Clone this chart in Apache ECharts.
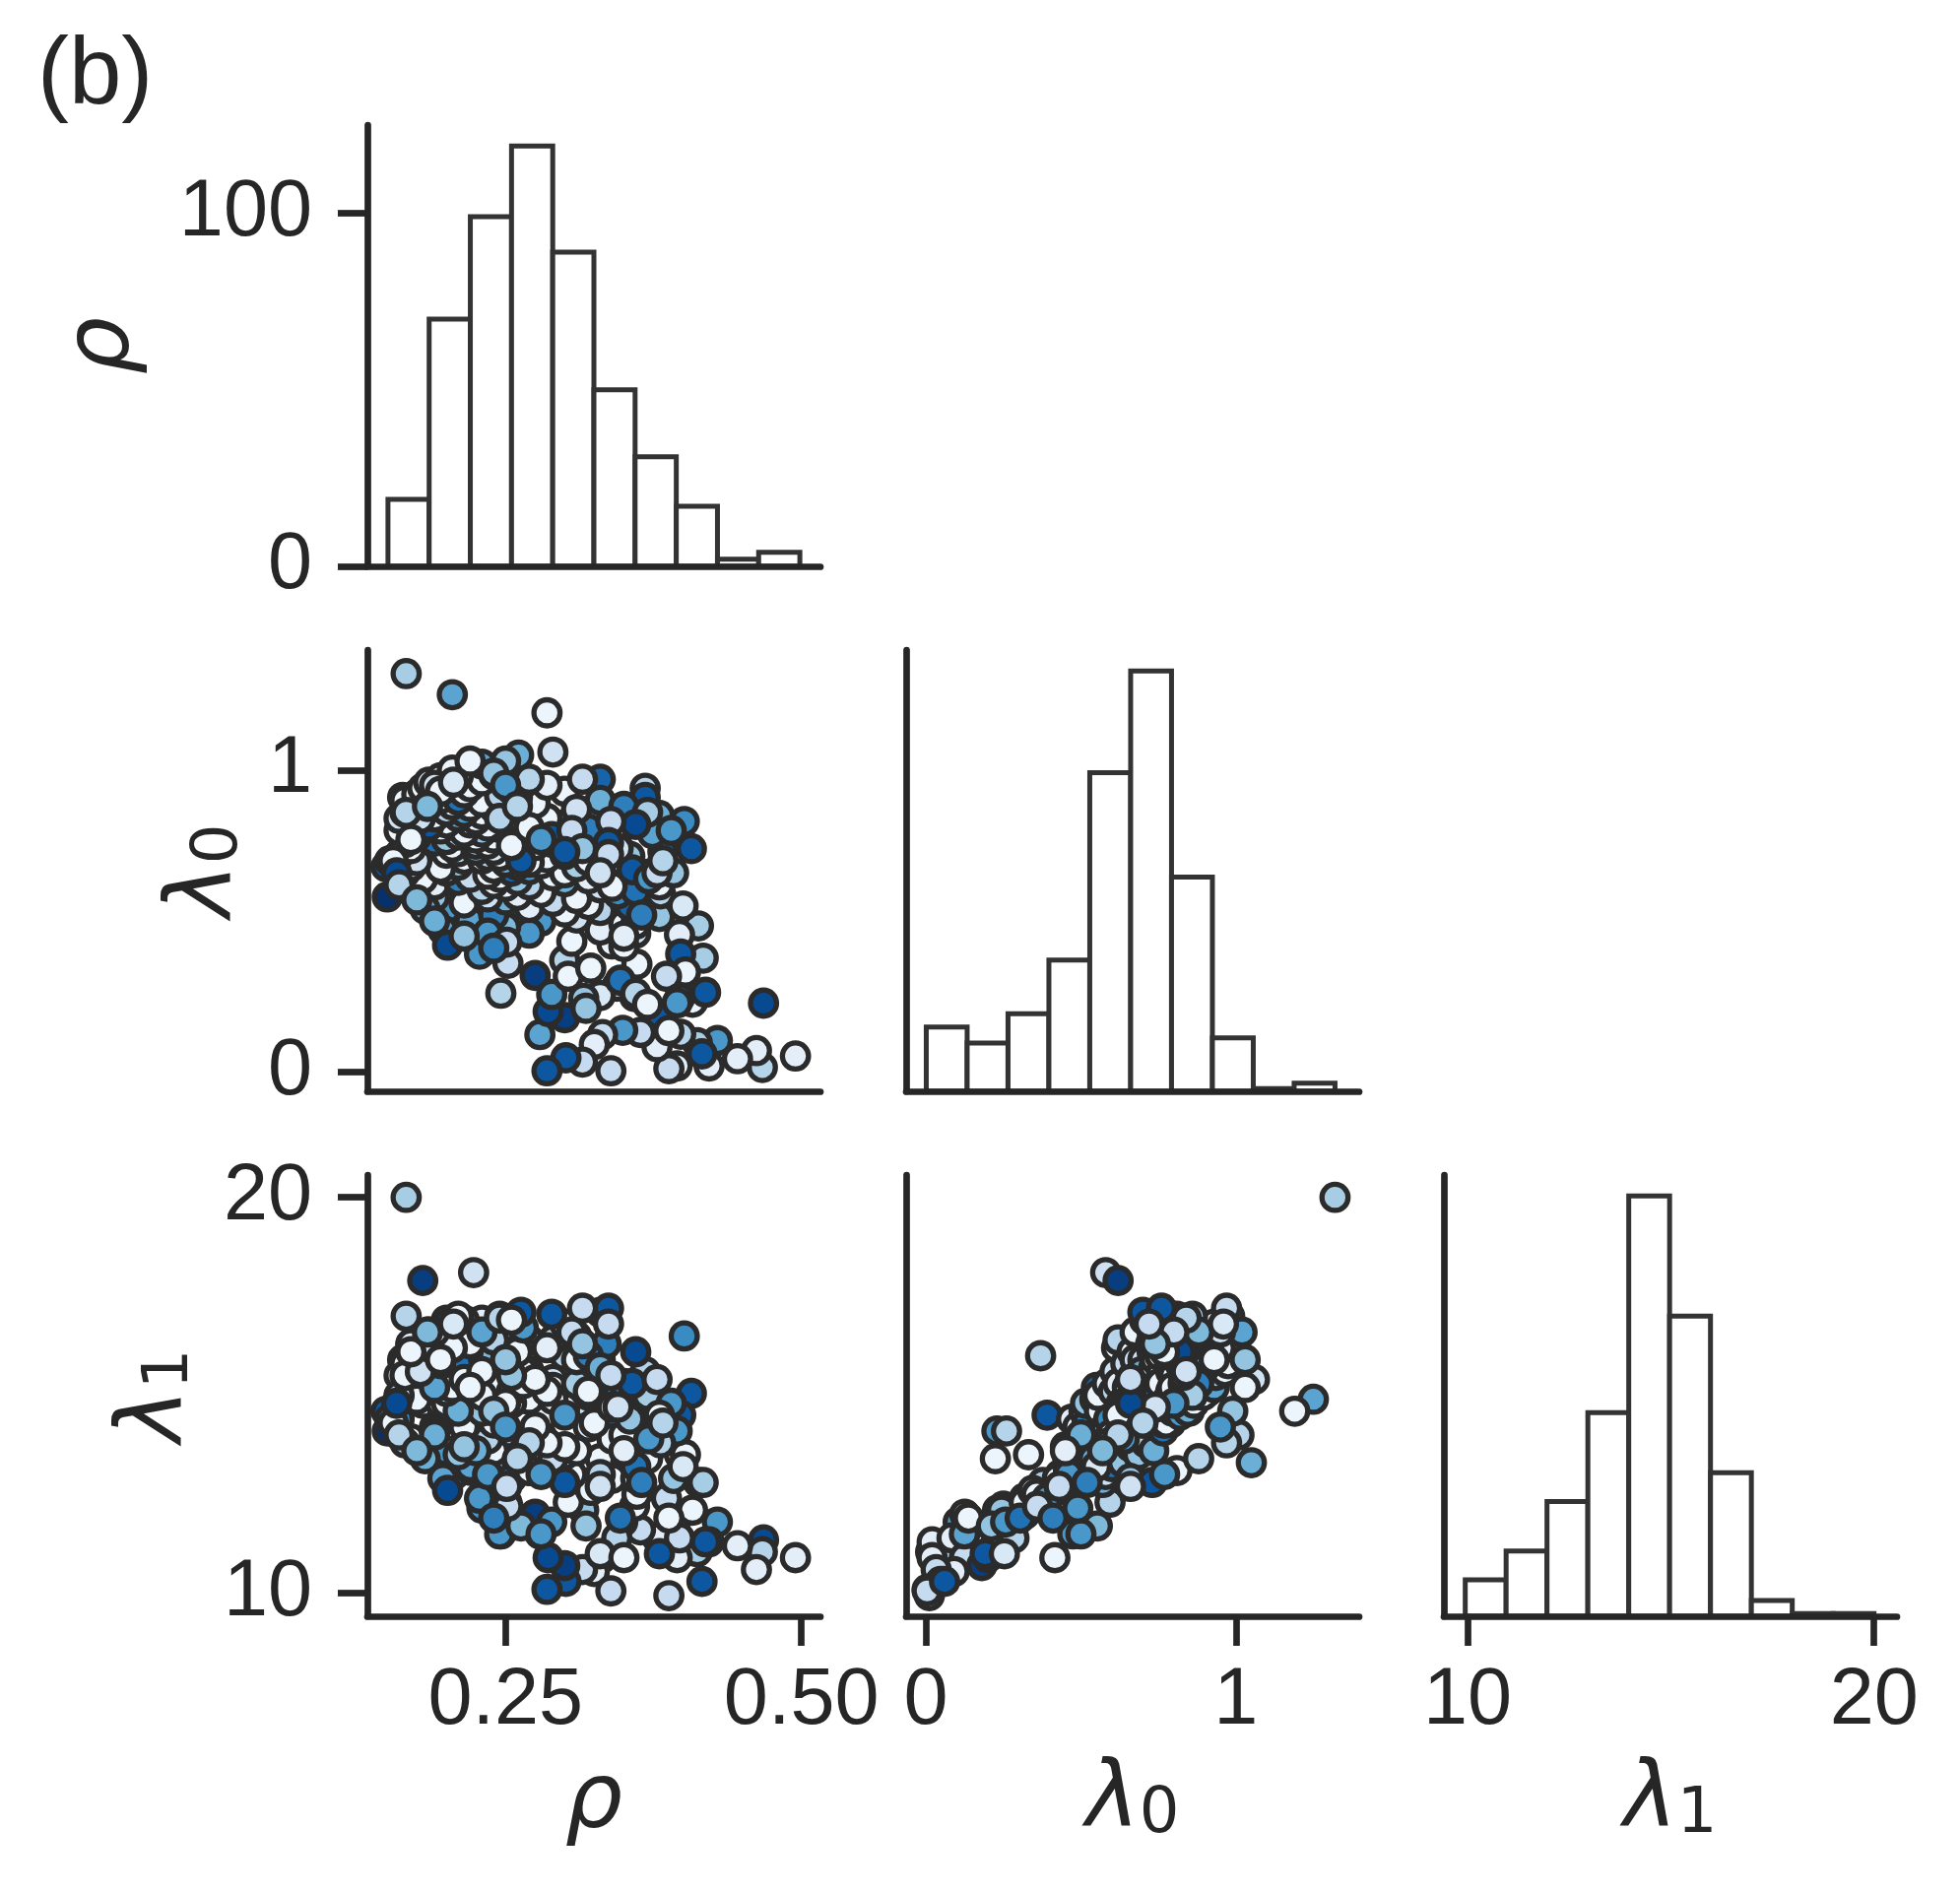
<!DOCTYPE html>
<html>
<head>
<meta charset="utf-8">
<script src="https://cdn.jsdelivr.net/npm/echarts@6/dist/echarts.min.js"></script>
<style>
  html, body { margin: 0; padding: 0; background: #fff; }
  #chart { width: 1990px; height: 1924px; }
</style>
</head>
<body>
<div id="chart"></div>
<script>
// samples (rho, lambda0, lambda1, colour value)
var rho = [
  // outliers and picked points
  .166,.205,.285,.290,.223,.180,.330,.300,.261,.248, .225,.163,.150,.149,.152,.368,.368,.380,.401,.407, .383,.374,
  // low lambda0 tail
  .468,.495,.467,.462,.446,.429,.412,.422,.395,.388, .378,.364,.349,.332,.325,.315,.301,.285,.339,.279, .416,.398,.300,.286,
  // lower cloud
  .246,.275,.413,.397,.417,.398,.402,.386,.408,.419, .397,.380,.388,.359,.344,.330,.316,.318,.289,.303,
  .322,.306,.330,.340,.360,.361,.347,.395,.360,.370, .350,.245,.263,.251,.280,.230,.207,.221,
  // main cloud
  .27,.33,.25,.35,.22,.31,.36,.24,.30,.38, .20,.27,.33,.355,.215,.29,.32,.25,.19,.26,
  .31,.345,.235,.17,.23,.28,.33,.36,.25,.19, .24,.30,.34,.27,.21,.18,.22,.26,.29,.32,
  .37,.245,.165,.20,.235,.27,.30,.33,.255,.17, .21,.24,.28,.31,.35,.26,.195,.175,.215,.25,
  .285,.32,.355,.23,.27,.16,.20,.235,.265,.30, .335,.245,.21,.17,.205,.24,.275,.31,.345,.225,
  .26,.165,.19,.225,.255,.29,.325,.235,.20,.175, .21,.24,.27,.305,.34,.225,.255,.16,.195,.23,
  .26,.29,.32,.215,.245,.17,.20,.235,.265,.30, .22,.185,.16,.19,.225,.255,.285,.21,.165,.20,
  .23,.265,.215,.25,.17,.205,.24,.275,.22,.165, .195,.23,.26,.21,.175,.215,.245,.19,.18,.22,
  .255,.20,.185,.23,.265,.195,.24,.21,.205,.23, .25,.30,.33,.31,.35,.37,.39,.36,.285,.315,
  .182,.197,.201,.228,.235,.252,.251,.215,.19,.24, .381,.38,.357,.371,.339,.345,.392,.40,.365,.35,
  .155,.158,.178,.19,.195,.17,.16,.175,.166,.184, .206,.263,.289,.245,.255,.306,.315,.337,.337,.378,
  .383,.24,.22,.27,.25,.30,.27,.33,.26,.28
];
var lam0 = [
  1.32,1.25,1.19,1.06,.58,.62,.97,.37,1.05,1.01, 1.00,.91,.58,.68,.70,.94,.91,.85,.83,.74, .73,.79,
  .228,.053,.015,.071,.044,.104,.097,.020,.020,.011, .084,.131,.138,.124,.091,.033,.047,.004,.004,.124, .060,.125,.180,.200,
  .261,.320,.484,.455,.377,.391,.331,.317,.231,.264, .244,.191,.137,.250,.284,.253,.244,.211,.257,.317,
  .344,.433,.511,.424,.460,.357,.304,.229,.260,.224, .416,.474,.553,.594,.500,.490,.550,.600,
  .46,.47,.48,.49,.50,.51,.49,.52,.53,.515, .54,.545,.535,.55,.56,.565,.555,.57,.58,.585,
  .575,.59,.58,.60,.605,.595,.61,.60,.615,.62, .625,.63,.615,.62,.635,.64,.645,.635,.65,.64,
  .655,.645,.66,.665,.655,.67,.66,.675,.665,.68, .685,.675,.69,.68,.695,.685,.675,.70,.705,.695,
  .71,.70,.715,.705,.695,.72,.725,.715,.73,.72, .725,.715,.73,.74,.745,.735,.75,.74,.745,.735,
  .75,.76,.765,.755,.77,.76,.765,.755,.77,.78, .785,.775,.79,.78,.785,.775,.79,.80,.805,.795,
  .81,.80,.805,.795,.81,.82,.825,.815,.83,.82, .825,.815,.84,.845,.835,.85,.84,.845,.86,.865,
  .855,.87,.86,.865,.88,.885,.875,.89,.88,.90, .905,.895,.91,.90,.92,.925,.915,.93,.94,.945,
  .935,.95,.96,.965,.955,.975,.985,.98,1.00,1.02, 1.03,.93,.90,.87,.88,.86,.80,.82,.95,.97,
  .54,.47,.42,.39,.46,.36,.43,.45,.50,.41, .59,.62,.67,.64,.83,.74,.66,.55,.52,.45,
  .70,.66,.84,.95,.93,.77,.62,.57,.86,.88, .96,.70,.78,.84,.75,.80,.74,.76,.72,.66,
  .70,.99,1.03,.97,.95,.73,.81,.66,.88,.77
];
var lam1 = [
  20.0,14.9,14.6,15.4,18.1,17.9,17.1,16.0,13.3,14.0, 15.9,15.9,14.1,14.6,14.4,15.6,15.1,14.6,16.5,15.05, 14.5,14.3,
  11.35,10.9,11.05,10.6,11.2,11.8,11.05,11.3,10.9,9.94, 11.4,11.6,11.8,10.9,10.55,10.6,10.3,10.1,10.06,11.5, 10.3,12.0,10.7,10.9,
  11.5,12.0,12.8,13.5,12.8,14.5,13.5,12.4,12.1,11.3, 11.4,11.0,11.9,12.2,11.4,11.0,12.1,11.7,11.8,12.3,
  12.6,13.0,13.4,12.9,13.2,12.5,11.9,14.1,14.1,13.4, 10.9,11.5,11.7,12.3,11.5,12.15,13.0,13.1,
  13.1,14.4,13.4,14.2,13.2,14.6,12.9,14.3,13.5,14.8, 13.6,14.9,13.0,15.2,14.6,13.4,15.0,12.8,14.2,15.3,
  13.6,14.4,13.0,13.9,15.1,14.0,15.6,13.2,16.2,15.3, 13.6,14.8,13.9,16.4,14.5,14.8,15.8,13.3,15.2,14.2,
  14.9,14.6,13.8,16.1,14.2,15.5,13.7,15.9,12.9,15.2, 13.5,16.6,14.4,15.3,14.0,15.0,14.8,15.9,14.2,15.6,
  13.8,15.1,14.4,16.9,14.9,14.4,15.4,13.9,16.1,14.7, 16.3,15.0,16.6,16.3,14.6,15.7,14.2,15.9,15.0,13.6,
  16.8,15.6,14.1,16.0,14.8,16.4,14.3,15.3,16.9,14.9, 15.9,14.3,15.6,16.7,14.7,16.5,15.1,15.5,16.2,14.6,
  15.9,14.9,16.0,15.2,17.0,16.0,14.8,16.4,15.3,14.5, 15.7,16.6,15.0,16.3,15.5,16.7,15.1,14.6,15.8,15.1,
  16.2,15.6,16.9,14.8,16.3,15.2,16.0,15.4,15.7,15.5, 16.5,15.0,16.1,15.8,16.0,15.4,16.6,15.2,15.7,16.3,
  15.5,16.8,16.1,15.6,16.7,15.8,16.4,17.0,16.2,16.6, 15.9,16.8,15.7,16.5,15.3,15.0,14.8,16.1,16.2,17.2,
  13.4,12.9,12.6,12.4,13.0,12.2,12.7,13.7,14.0,11.9, 13.8,14.5,15.3,13.9,15.5,14.7,12.9,13.2,12.8,13.6,
  14.3,14.8,15.6,16.6,15.9,16.1,14.0,13.6,17.0,16.6, 16.8,17.1,17.05,16.95,16.9,16.6,16.3,17.2,16.8,15.4,
  14.3,14.6,15.2,13.8,14.2,12.8,13.1,12.7,13.4,13.0
];
var hue = [
  .35,.55,.05,.2,.2,.95,.8,.3,.5,.3, .9,1,1,.85,.05,.3,.85,.5,.65,.85, .8,.55,
  .9,.1,.3,.1,.1,.6,.35,.1,.1,.25, .1,.25,.6,.25,.1,.25,.85,.85,.25,.55, .85,.3,.95,.9,
  .3,.95,.35,.1,.35,.85,.05,.25,.05,.85, .25,.85,.05,.05,.3,.15,.4,.4,.6,.05,
  .05,.05,.05,.05,.2,.05,.75,.6,.3,.05, .05,.6,.45,.3,.6,.6,.3,.3,
  .6,.1,.45,.05,.55,.2,.05,.7,.05,.4, .6,.1,.3,.8,.05,.25,.05,.5,.4,.1,
  .05,.65,.2,.05,.3,.05,.2,.75,.05,.1, .05,.5,.05,.3,.7,.05,.25,.4,.05,.1,
  .55,.05,.3,.05,.05,.6,.05,.2,.8,.05, .4,.05,.05,.35,.05,.1,.05,.2,.05,.5,
  .05,.05,.4,.1,.05,.65,.05,.3,.05,.05, .7,.05,.3,.05,.05,.15,.05,.05,.6,.5,
  .2,.1,.75,.05,.05,.25,.05,.05,.4,.05, .2,.05,.05,.55,.1,.05,.3,.05,.05,.4,
  .05,.05,.7,.05,.15,.3,.05,.05,.05,.6, .05,.85,.2,.05,.05,.25,.05,.5,.05,.3,
  .05,.05,.6,.05,.1,.05,.45,.05,.05,.05, .2,.05,.05,.75,.05,.05,.3,.55,.05,.05,
  .4,.85,.2,.05,.6,.05,.3,.05,.05,.55, .4,.05,.5,.2,.7,.35,.6,.9,.1,.25,
  .5,.55,.9,.6,.6,.25,.25,.4,.5,.7, .3,.05,.85,.6,.25,.2,.4,.15,.7,.1,
  .05,.9,.2,.2,.05,.05,.3,.45,.3,.45, .15,.85,.85,.3,.05,.25,.4,.85,.25,.25,
  .3,.4,.05,.3,.6,.85,.05,.2,.3,.6
];

// histogram counts (10 bins each) and bin ranges
var rhoCounts  = [19, 70, 99, 119, 89, 50, 31, 17, 2, 4];
var lam0Counts = [24, 18, 29, 49, 119, 157, 80, 20, 1, 3];
var lam1Counts = [14, 25, 44, 78, 161, 115, 55, 6, 1, 1];
var rhoBins  = [0.1506, 0.4987];
var lam0Bins = [0.001, 1.320];
var lam1Bins = [9.945, 20.0];

// tick labels
var rhoTicks   = [0.25, 0.5];
var lam0Ticks  = [0, 1];
var lam1Ticks  = [10, 20];
var countTicks = [0, 100];

var blues = ['#f7fbff','#deebf7','#c6dbef','#9ecae1','#6baed6','#4292c6','#2171b5','#08519c','#08306b'];

var chart = echarts.init(document.getElementById('chart'));

var ink = '#262626';
var tickFont = "'Liberation Sans', Arial, sans-serif";
var mathFont = "'DejaVu Sans', sans-serif";

var rhoLim  = [0.1332, 0.5161];
var lam0Lim = [-0.064, 1.398];
var lam1Lim = [9.42, 20.565];

var colLeft = [373, 920, 1466];
var rowTop  = [127, 660, 1193];

var mathRich = {
  i: { fontFamily: mathFont, fontStyle: 'italic', fontSize: 92, lineHeight: 92, color: ink },
  s: { fontFamily: mathFont, fontSize: 64, lineHeight: 46, verticalAlign: 'bottom', color: ink }
};
var names = { rho: '{i|ρ}', lam0: '{i|λ}{s|0}', lam1: '{i|λ}{s|1}' };

function fmtRho(v) { return v.toFixed(2); }
function fmtInt(v) { return String(Math.round(v)); }

function makeAxis(grid, lim, ticks, fmt, isY, name, gap) {
  var on = !!ticks;
  return {
    type: 'value', gridIndex: grid, min: lim[0], max: lim[1], z: 5,
    axisLine: { show: true, onZero: false, lineStyle: { color: ink, width: 6.7 } },
    axisTick: { show: on, inside: false, length: 30, customValues: on ? ticks : undefined,
                lineStyle: { color: ink, width: 6.7 } },
    axisLabel: { show: on, customValues: on ? ticks : undefined, formatter: fmt,
                 margin: isY ? 56 : 46, fontSize: 81, color: ink, fontFamily: tickFont,
                 showMinLabel: true, showMaxLabel: true },
    splitLine: { show: false },
    name: name || '', nameLocation: 'middle', nameGap: gap || 0,
    nameTextStyle: { rich: mathRich }
  };
}

function histData(bins, counts) {
  var w = (bins[1] - bins[0]) / counts.length;
  return counts.map(function (c, i) { return [bins[0] + i * w, bins[0] + (i + 1) * w, c]; });
}

function renderBin(params, api) {
  var a = api.coord([api.value(0), 0]);
  var b = api.coord([api.value(1), api.value(2)]);
  return {
    type: 'rect',
    shape: { x: a[0], y: b[1], width: b[0] - a[0], height: a[1] - b[1] },
    style: { fill: '#ffffff', stroke: '#333333', lineWidth: 5 }
  };
}

function histSeries(idx, bins, counts) {
  return {
    type: 'custom', xAxisIndex: idx, yAxisIndex: idx, renderItem: renderBin,
    encode: { x: [0, 1], y: 2 }, data: histData(bins, counts), silent: true
  };
}

function scatterSeries(idx, xs, ys) {
  return {
    type: 'scatter', xAxisIndex: idx, yAxisIndex: idx, symbolSize: 26.5,
    itemStyle: { borderColor: '#2b2b2b', borderWidth: 5.3, opacity: 1 },
    data: xs.map(function (x, i) { return [x, ys[i], hue[i]]; }), silent: true
  };
}

var cells = [[0, 0], [1, 0], [1, 1], [2, 0], [2, 1], [2, 2]];
var grids = cells.map(function (c) {
  return { left: colLeft[c[1]], top: rowTop[c[0]], width: 460, height: 448, containLabel: false };
});

function peak(counts) { return Math.max.apply(null, counts) * 1.05; }

var xAxes = [
  makeAxis(0, rhoLim, null),
  makeAxis(1, rhoLim, null),
  makeAxis(2, lam0Lim, null),
  makeAxis(3, rhoLim, rhoTicks, fmtRho, false, names.rho, 144),
  makeAxis(4, lam0Lim, lam0Ticks, fmtInt, false, names.lam0, 142),
  makeAxis(5, lam1Lim, lam1Ticks, fmtInt, false, names.lam1, 142)
];
var yAxes = [
  makeAxis(0, [0, peak(rhoCounts)], countTicks, fmtInt, true, names.rho, 221),
  makeAxis(1, lam0Lim, lam0Ticks, fmtInt, true, names.lam0, 118),
  makeAxis(2, [0, peak(lam0Counts)], null),
  makeAxis(3, lam1Lim, lam1Ticks, fmtInt, true, names.lam1, 168),
  makeAxis(4, lam1Lim, null),
  makeAxis(5, [0, peak(lam1Counts)], null)
];

var option = {
  animation: false,
  backgroundColor: '#ffffff',
  grid: grids,
  xAxis: xAxes,
  yAxis: yAxes,
  visualMap: {
    show: false, type: 'continuous', min: 0, max: 1, dimension: 2,
    seriesIndex: [1, 3, 4], inRange: { color: blues }
  },
  graphic: [{
    type: 'text', x: 38, y: 79,
    style: { text: '(b)', fontSize: 96, fontFamily: tickFont, fill: ink, align: 'left', verticalAlign: 'middle' }
  }],
  series: [
    histSeries(0, rhoBins, rhoCounts),
    scatterSeries(1, rho, lam0),
    histSeries(2, lam0Bins, lam0Counts),
    scatterSeries(3, rho, lam1),
    scatterSeries(4, lam0, lam1),
    histSeries(5, lam1Bins, lam1Counts)
  ]
};

chart.setOption(option);
</script>
</body>
</html>
